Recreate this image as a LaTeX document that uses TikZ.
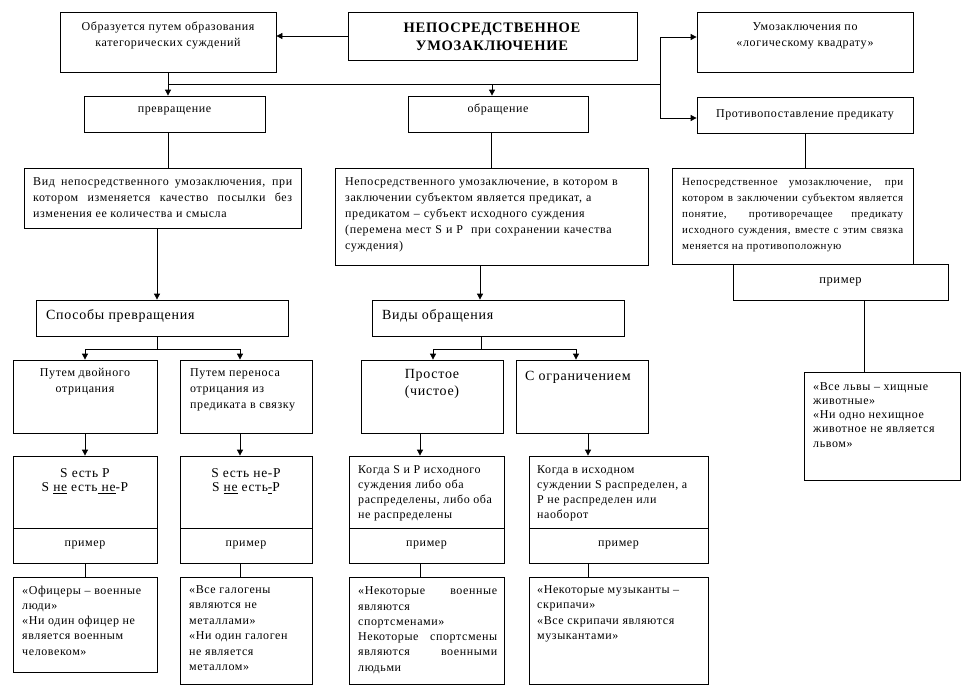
\documentclass[tikz,border=0pt]{standalone}
\usepackage{fontspec}
\setmainfont{Liberation Serif}[LetterSpace=5]
\usetikzlibrary{arrows.meta}
\tikzset{
  box/.style={draw, line width=0.8pt, inner sep=0pt},
  ln/.style={line width=0.8pt},
  arr/.style={line width=0.8pt, -{Triangle[width=6pt,length=6pt]}},
  st/.style={execute at begin node={\rule{0pt}{#1pt}}},
  txt/.style={inner sep=0pt, anchor=north west, align=left, font=\fontsize{12}{16}\selectfont, st=9},
  txtc/.style={inner sep=0pt, anchor=north, align=center, font=\fontsize{12}{16}\selectfont, st=9},
  txtj/.style={inner sep=0pt, anchor=north west, align=justify, font=\fontsize{12}{16}\selectfont, st=9},
  sm/.style={font=\fontsize{11}{16}\selectfont},
  ex/.style={txt, font=\fontsize{12}{15.3}\selectfont},
  exj/.style={txtj, font=\fontsize{12}{15.3}\selectfont},
  big/.style={inner sep=0pt, anchor=north, align=center, font=\fontsize{14}{17}\selectfont, st=11},
  bigl/.style={inner sep=0pt, anchor=north west, align=left, font=\fontsize{14}{17}\selectfont, st=11},
  frm/.style={inner sep=0pt, anchor=north, align=center, font=\fontsize{13.5}{14.5}\selectfont, st=10},
  pr/.style={inner sep=0pt, anchor=north, font=\fontsize{12}{14}\selectfont, st=9},
  ttl/.style={inner sep=0pt, anchor=north, align=center, font=\fontsize{14.5}{18}\selectfont\bfseries, st=11},
}
\newcommand\bx[5]{\node[box, minimum width={(#4-#2)*1pt}, minimum height={(#5-#3)*1pt}] (#1) at ({(#2+#4)/2},{(#3+#5)/2}) {};}
\begin{document}
\begin{tikzpicture}[x=1pt,y=-1pt]
\useasboundingbox (0,0) rectangle (973,697);
% top row
\bx{b1}{60}{12}{276}{72}
\node[txtc] (t1) at (168,22) {Образуется путем образования\\категорических суждений};
\bx{tt}{348}{12}{637}{60}
\node[ttl] (ttt) at (492,22.5) {НЕПОСРЕДСТВЕННОЕ\\УМОЗАКЛЮЧЕНИЕ};
\bx{b3}{697}{12}{913}{72}
\node[txtc] (t3) at (805,22) {Умозаключения по\\«логическому квадрату»};
\bx{b4}{697}{97}{913}{133}
\node[txtc] (t4) at (805,108) {Противопоставление предикату};
\bx{b5}{84}{96}{265}{132}
\node[txtc] (t5) at (174.5,103) {превращение};
\bx{b6}{408}{96}{588}{132}
\node[txtc] (t6) at (498,103) {обращение};
% definitions
\bx{b7}{24}{168}{301}{228}
\node[txtj, text width=259pt] (t7) at (33,176) {Вид непосредственного умозаключения, при\linebreak котором изменяется качество посылки без\linebreak изменения ее количества и смысла};
\bx{b8}{335}{168}{648}{265}
\node[txt, text width=298pt] (t8) at (345,176) {Непосредственного умозаключение, в котором в\\заключении субъектом является предикат, а\\предикатом – субъект исходного суждения\\(перемена мест S и P\ \ при сохранении качества\\суждения)};
\bx{b9}{672}{168}{913}{264}
\node[txtj, sm, text width=221pt] (t9) at (682,176) {Непосредственное умозаключение, при\linebreak котором в заключении субъектом является\linebreak понятие, противоречащее предикату\linebreak исходного суждения, вместе с этим связка\linebreak меняется на противоположную};
\bx{p9}{733}{264}{948}{300}
\node[pr, font=\fontsize{12.5}{14}\selectfont] (tp9) at (840.5,274) {пример};
\bx{e9}{804}{372}{960}{480}
\node[txt, font=\fontsize{12}{14.3}\selectfont] (te9) at (813,382) {«Все львы – хищные\\животные»\\«Ни одно нехищное\\животное не является\\львом»};
% kinds
\bx{sp}{36}{300}{288}{336}
\node[bigl] (tsp) at (46,308) {Способы превращения};
\bx{vd}{372}{300}{624}{336}
\node[bigl] (tvd) at (382,308) {Виды обращения};
\bx{b11}{13}{360}{157}{433}
\node[txtc] (t11) at (85,368) {Путем двойного\\отрицания};
\bx{b12}{180}{360}{312}{433}
\node[txt] (t12) at (190,368) {Путем переноса\\отрицания из\\предиката в связку};
\bx{b16}{361}{360}{503}{433}
\node[big] (t16) at (432,369) {Простое\\(чистое)};
\bx{b17}{516}{360}{648}{433}
\node[bigl] (t17) at (525,369) {С ограничением};
% formulas
\bx{b13}{13}{456}{157}{528}
\node[frm] (t13) at (85,468) {S есть P\\S \underline{не} есть\underline{ не}-P};
\bx{p13}{13}{528}{157}{563}
\node[pr] (tp13) at (85,537) {пример};
\bx{b14}{180}{456}{312}{528}
\node[frm] (t14) at (246,468) {S есть не-P\\S \underline{не} есть\underline{-}P};
\bx{p14}{180}{528}{312}{563}
\node[pr] (tp14) at (246,537) {пример};
\bx{b18}{349}{456}{504}{528}
\node[ex, font=\fontsize{12}{15}\selectfont] (t18) at (358,465) {Когда S и P исходного\\суждения либо оба\\распределены, либо оба\\не распределены};
\bx{p18}{349}{528}{504}{563}
\node[pr] (tp18) at (426.5,537) {пример};
\bx{b19}{529}{456}{708}{528}
\node[ex, font=\fontsize{12}{15}\selectfont] (t19) at (537,465) {Когда в исходном\\суждении S распределен, а\\P не распределен или\\наоборот};
\bx{p19}{529}{528}{708}{563}
\node[pr] (tp19) at (618.5,537) {пример};
% examples
\bx{e13}{13}{577}{157}{672}
\node[ex] (te13) at (22,585.5) {«Офицеры – военные\\люди»\\«Ни один офицер не\\является военным\\человеком»};
\bx{e14}{180}{577}{312}{684}
\node[ex, font=\fontsize{12}{15.4}\selectfont] (te14) at (189,585.5) {«Все галогены\\являются не\\металлами»\\«Ни один галоген\\не является\\металлом»};
\bx{e18}{349}{577}{504}{684}
\node[exj, text width=139pt] (te18) at (358,585.5) {«Некоторые военные\linebreak являются\newline спортсменами»\par Некоторые спортсмены\linebreak являются военными\linebreak людьми};
\bx{e19}{529}{577}{708}{684}
\node[ex] (te19) at (537,585.5) {«Некоторые музыканты –\\скрипачи»\\«Все скрипачи являются\\музыкантами»};
% junction coordinates
\coordinate (j1) at (168,84);
\coordinate (j2) at (660,84);
\coordinate (j3) at (492,84);
\coordinate (r1) at (660,37);
\coordinate (r2) at (660,118);
\coordinate (s0) at (157,349);
\coordinate (sa) at (85,349);
\coordinate (sb) at (240,349);
\coordinate (v0) at (481,349);
\coordinate (va) at (433,349);
\coordinate (vb) at (576,349);
\coordinate (xa) at (420,0);
\coordinate (xb) at (588,0);
\coordinate (xc) at (864,0);
\coordinate (xd) at (480,0);
% connectors
\draw[arr] (tt.west) -- (tt.west -| b1.east);
\draw[arr] (b1.south) -- (b1.south |- b5.north);
\draw[ln] (j1) -- (j2);
\draw[ln] (r1) -- (r2);
\draw[arr] (r1) -- (r1 -| b3.west);
\draw[arr] (r2) -- (r2 -| b4.west);
\draw[arr] (j3) -- (j3 |- b6.north);
\draw[ln] (j1 |- b5.south) -- (j1 |- b7.north);
\draw[ln] (b8.north) -- (b8.north |- b6.south);
\draw[ln] (b4.south) -- (b4.south |- b9.north);
\draw[arr] (s0 |- b7.south) -- (s0 |- sp.north);
\draw[arr] (xd |- b8.south) -- (xd |- vd.north);
\draw[ln] (xc |- p9.south) -- (xc |- e9.north);
\draw[ln] (s0 |- sp.south) -- (s0);
\draw[ln] (sa) -- (sb);
\draw[arr] (sa) -- (sa |- b11.north);
\draw[arr] (sb) -- (sb |- b12.north);
\draw[ln] (v0 |- vd.south) -- (v0);
\draw[ln] (va) -- (vb);
\draw[arr] (va) -- (va |- b16.north);
\draw[arr] (vb) -- (vb |- b17.north);
\draw[arr] (b11.south) -- (b13.north);
\draw[arr] (sb |- b12.south) -- (sb |- b14.north);
\draw[arr] (xa |- b16.south) -- (xa |- b18.north);
\draw[arr] (xb |- b17.south) -- (xb |- b19.north);
\draw[ln] (p13.south) -- (e13.north);
\draw[ln] (sb |- p14.south) -- (sb |- e14.north);
\draw[ln] (xa |- p18.south) -- (xa |- e18.north);
\draw[ln] (xb |- p19.south) -- (xb |- e19.north);
\end{tikzpicture}
\end{document}
